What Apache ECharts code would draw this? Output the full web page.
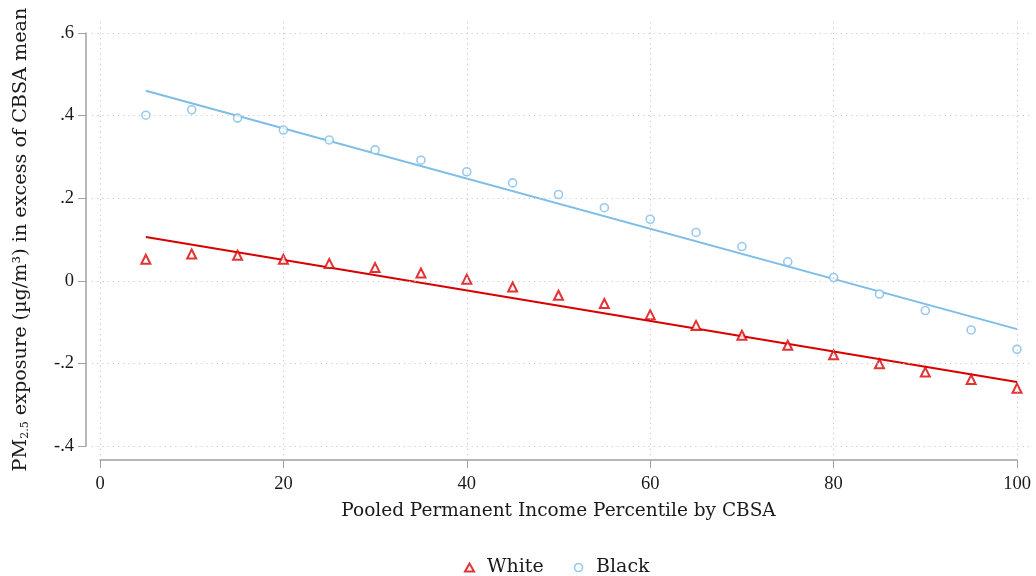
<!DOCTYPE html>
<html>
<head>
<meta charset="utf-8">
<script src="https://cdn.jsdelivr.net/npm/echarts@6/dist/echarts.min.js"></script>
<style>
  html, body { margin: 0; padding: 0; background: #fff; }
  #chart { width: 1036px; height: 576px; }
</style>
</head>
<body>
<div id="chart"></div>
<script>
// Income percentile bins (x) and mean excess PM2.5 exposure by group
const percentiles = [5, 10, 15, 20, 25, 30, 35, 40, 45, 50, 55, 60, 65, 70, 75, 80, 85, 90, 95, 100];
const whiteValues = [0.052, 0.065, 0.062, 0.052, 0.042, 0.032, 0.019, 0.004, -0.015, -0.035,
                     -0.055, -0.082, -0.108, -0.132, -0.156, -0.179, -0.201, -0.221, -0.239, -0.260];
const blackValues = [0.401, 0.414, 0.394, 0.365, 0.341, 0.317, 0.292, 0.264, 0.237, 0.209,
                     0.177, 0.149, 0.117, 0.083, 0.046, 0.008, -0.032, -0.072, -0.119, -0.166];
// Linear fit lines (end points)
const whiteFit = [[5, 0.106], [100, -0.245]];
const blackFit = [[5, 0.460], [100, -0.117]];
// Axis ticks
const xTicks = [0, 20, 40, 60, 80, 100];
const yTicks = [-0.4, -0.2, 0, 0.2, 0.4, 0.6];
const yTickLabels = ['-.4', '-.2', '0', '.2', '.4', '.6'];

const RED = '#d90000';
const BLUE = '#7dbde8';
const SERIF = '"DejaVu Serif", serif';
const TICKFONT = '"Liberation Serif", serif';
const TEXT = '#1a1a1a';
const AXIS = '#a0a0a0';

const chart = echarts.init(document.getElementById('chart'));

const pts = (xs, ys) => xs.map((x, i) => [x, ys[i]]);

const gridLineData = [
  ...xTicks.map(v => ({ xAxis: v })),
  ...yTicks.map(v => ({ yAxis: v }))
];

chart.setOption({
  animation: false,
  backgroundColor: '#fff',
  textStyle: { fontFamily: SERIF, color: TEXT },
  grid: [
    // background grid area (slightly larger than the data range)
    { left: 92, right: 6, top: 22, bottom: 121 },
    // data area
    { left: 100, right: 19, top: 33, bottom: 130 }
  ],
  xAxis: [
    { gridIndex: 0, type: 'value', min: -0.872, max: 101.42, show: false },
    {
      gridIndex: 1, type: 'value', min: 0, max: 100, interval: 20,
      offset: 14,
      axisLine: { show: true, onZero: false, lineStyle: { color: AXIS, width: 1.5 } },
      axisTick: { show: true, length: 8, lineStyle: { color: AXIS, width: 1 } },
      axisLabel: { fontFamily: TICKFONT, fontSize: 18.5, color: TEXT, margin: 15 },
      splitLine: { show: false },
      name: 'Pooled Permanent Income Percentile by CBSA',
      nameLocation: 'middle',
      nameGap: 42,
      nameTextStyle: { fontFamily: SERIF, fontSize: 18.5, color: TEXT }
    }
  ],
  yAxis: [
    { gridIndex: 0, type: 'value', min: -0.4218, max: 0.6266, show: false },
    {
      gridIndex: 1, type: 'value', min: -0.4, max: 0.6, interval: 0.2,
      offset: 14,
      axisLine: { show: true, onZero: false, lineStyle: { color: AXIS, width: 1.5 } },
      axisTick: { show: true, length: 8, lineStyle: { color: AXIS, width: 1 } },
      axisLabel: {
        fontFamily: TICKFONT, fontSize: 18.5, color: TEXT, margin: 12,
        formatter: v => {
          const i = yTicks.findIndex(t => Math.abs(t - v) < 1e-9);
          return i >= 0 ? yTickLabels[i] : '';
        }
      },
      splitLine: { show: false },
      name: '{n|PM}{s|2.5}{n| exposure (µg/m³) in excess of CBSA mean}',
      nameLocation: 'middle',
      nameRotate: 90,
      nameGap: 55,
      nameTextStyle: {
        fontFamily: SERIF, fontSize: 19.2, color: TEXT,
        rich: {
          n: { fontFamily: SERIF, fontSize: 19.2, color: TEXT, verticalAlign: 'bottom', lineHeight: 24 },
          s: { fontFamily: SERIF, fontSize: 11, color: TEXT, verticalAlign: 'bottom', lineHeight: 17 }
        }
      }
    }
  ],
  legend: {
    top: 553,
    left: 459,
    itemGap: 30,
    itemWidth: 9,
    itemHeight: 8,
    textStyle: { fontFamily: SERIF, fontSize: 19, color: TEXT, padding: [0, 0, 0, 8] },
    data: [
      { name: 'White', icon: 'triangle', itemStyle: { color: '#fff', borderColor: RED, borderWidth: 2 } },
      { name: 'Black', icon: 'circle', itemStyle: { color: '#fff', borderColor: BLUE, borderWidth: 1.6 } }
    ]
  },
  series: [
    {
      // dotted background grid
      type: 'line', xAxisIndex: 0, yAxisIndex: 0, data: [], silent: true,
      markLine: {
        silent: true, symbol: 'none', label: { show: false },
        lineStyle: { type: [1.2, 4], color: '#c8c8c8', width: 1 },
        data: gridLineData
      }
    },
    {
      name: 'White fit', type: 'line', xAxisIndex: 1, yAxisIndex: 1,
      data: whiteFit, showSymbol: false, silent: true,
      lineStyle: { color: RED, width: 2 }, z: 2
    },
    {
      name: 'Black fit', type: 'line', xAxisIndex: 1, yAxisIndex: 1,
      data: blackFit, showSymbol: false, silent: true,
      lineStyle: { color: BLUE, width: 2 }, z: 2
    },
    {
      name: 'White', type: 'scatter', xAxisIndex: 1, yAxisIndex: 1,
      data: pts(percentiles, whiteValues),
      symbol: 'triangle', symbolSize: 9,
      itemStyle: { color: '#fff', borderColor: RED, borderWidth: 2 }, z: 3
    },
    {
      name: 'Black', type: 'scatter', xAxisIndex: 1, yAxisIndex: 1,
      data: pts(percentiles, blackValues),
      symbol: 'circle', symbolSize: 8,
      itemStyle: { color: '#fff', borderColor: BLUE, borderWidth: 1.6 }, z: 3
    }
  ]
});
</script>
</body>
</html>
